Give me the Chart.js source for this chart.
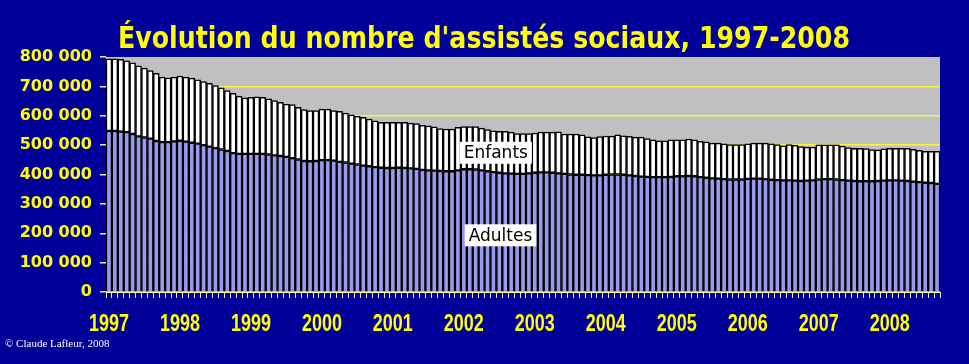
<!DOCTYPE html>
<html><head><meta charset="utf-8">
<script src="https://cdn.jsdelivr.net/npm/chart.js@4/dist/chart.umd.min.js"></script>
<style>html,body{margin:0;padding:0;background:#000099;overflow:hidden}</style>
</head><body>
<canvas id="c" width="969" height="364"></canvas>
<script>
const chartTitle = "Évolution du nombre d'assistés sociaux, 1997-2008";
const credit = "© Claude Lafleur, 2008";
const years = ['1997','1998','1999','2000','2001','2002','2003','2004','2005','2006','2007','2008'];
const monthNames = ['janv','févr','mars','avr','mai','juin','juil','août','sept','oct','nov','déc'];
const yTickValues = [0,100000,200000,300000,400000,500000,600000,700000,800000];

// Adultes (monthly, Jan 1997 - Sep 2008)
const adultes = [
548000,548000,546000,544000,538000,530000,526000,522000,514000,510000,510000,513000,
515000,512000,508000,505000,500000,495000,490000,485000,480000,473000,470000,470000,
470000,470000,470000,468000,465000,463000,460000,456000,451000,446000,445000,446000,
449000,449000,447000,443000,441000,437000,434000,430000,428000,425000,423000,422000,
422000,423000,422000,421000,419000,416000,414000,413000,412000,411000,411000,414000,
418000,418000,417000,414000,411000,408000,406000,404000,403000,402000,402000,404000,
406000,407000,407000,406000,404000,402000,400000,399000,399000,398000,397000,397000,
399000,400000,400000,399000,397000,395000,393000,392000,391000,391000,391000,392000,
394000,394000,395000,394000,391000,389000,387000,386000,384000,383000,383000,383000,
385000,386000,386000,384000,382000,381000,380000,380000,379000,378000,379000,380000,
383000,384000,384000,383000,381000,379000,378000,377000,377000,377000,378000,379000,
380000,380000,379000,378000,376000,374000,372000,371000,368000
];
// Enfants (monthly, Jan 1997 - Sep 2008)
const enfants = [
246000,246000,246000,243000,242000,240000,236000,232000,230000,222000,219000,219000,
220000,220000,220000,217000,216000,215000,213000,210000,206000,203000,197000,191000,
193000,194000,193000,190000,187000,183000,180000,182000,178000,175000,173000,172000,
174000,174000,171000,172000,168000,166000,164000,165000,161000,158000,155000,156000,
156000,155000,156000,154000,154000,151000,152000,149000,144000,144000,144000,147000,
145000,145000,146000,144000,142000,141000,141000,143000,141000,137000,137000,135000,
135000,137000,137000,138000,141000,136000,138000,139000,136000,130000,129000,132000,
132000,131000,135000,133000,133000,132000,134000,130000,127000,124000,124000,126000,
124000,124000,126000,124000,122000,122000,120000,121000,120000,119000,119000,119000,
119000,121000,121000,123000,122000,121000,118000,122000,120000,117000,114000,113000,
118000,117000,117000,118000,116000,113000,111000,112000,111000,108000,106000,108000,
109000,109000,110000,111000,110000,108000,107000,108000,111000
];

const categories = [];
years.forEach(y => monthNames.forEach(m => categories.push(m + ' ' + y)));
categories.length = adultes.length;

const annotations = [
  {text: 'Enfants', xIndex: 65.4, yValue: 474000},
  {text: 'Adultes', xIndex: 66.2, yValue: 193000}
];

const fmt = v => String(v).replace(/\B(?=(\d{3})+(?!\d))/g, ' ');

const decor = {
  id: 'decor',
  beforeDraw(chart) {
    const {ctx, chartArea: a} = chart;
    ctx.save();
    ctx.fillStyle = '#000099';
    ctx.fillRect(0, 0, chart.width, chart.height);
    ctx.fillStyle = '#C0C0C0';
    ctx.fillRect(a.left, a.top, a.right - a.left, a.bottom - a.top);
    ctx.restore();
  },
  afterDatasetsDraw(chart) {
    const {ctx} = chart;
    const xs = chart.scales.x, ys = chart.scales.y;
    ctx.save();
    ctx.font = '17px "DejaVu Sans"';
    ctx.textAlign = 'center';
    ctx.textBaseline = 'middle';
    annotations.forEach(an => {
      const x = xs.getPixelForValue(an.xIndex);
      const y = ys.getPixelForValue(an.yValue);
      const w = ctx.measureText(an.text).width + 8;
      ctx.fillStyle = '#FFFFFF';
      ctx.fillRect(x - w / 2, y - 11, w, 22);
      ctx.fillStyle = '#000000';
      ctx.fillText(an.text, x, y + 1);
    });
    ctx.restore();
  },
  afterDraw(chart) {
    const {ctx} = chart;
    const xs = chart.scales.x;
    ctx.save();
    // title
    ctx.font = 'bold 31px "DejaVu Sans"';
    ctx.fillStyle = '#FFFF00';
    ctx.textBaseline = 'alphabetic';
    ctx.textAlign = 'center';
    let w = ctx.measureText(chartTitle).width;
    const sx = Math.min(1, 732 / w);
    ctx.save();
    ctx.translate(484, 48);
    ctx.scale(sx, 1);
    ctx.fillText(chartTitle, 0, 0);
    ctx.restore();
    // year labels
    ctx.font = 'bold 24px "Liberation Sans"';
    ctx.textBaseline = 'alphabetic';
    years.forEach((yr, k) => {
      const i = k * 12;
      if (i >= categories.length) return;
      const x = xs.getPixelForValue(i);
      const tw = ctx.measureText(yr).width;
      const s = Math.min(1, 40 / tw);
      ctx.save();
      ctx.translate(x, 331);
      ctx.scale(s, 1);
      ctx.fillText(yr, 0, 0);
      ctx.restore();
    });
    // credit
    ctx.font = '11px "Liberation Serif"';
    ctx.fillStyle = '#FFFFFF';
    ctx.textAlign = 'left';
    ctx.fillText(credit, 5, 347);
    ctx.restore();
  }
};

new Chart(document.getElementById('c'), {
  type: 'bar',
  data: {
    labels: categories,
    datasets: [
      {label: 'Adultes', data: adultes, backgroundColor: '#9999EE', borderColor: '#000000', borderWidth: 1.5, borderSkipped: 'start'},
      {label: 'Enfants', data: enfants, backgroundColor: '#FFFFFF', borderColor: '#000000', borderWidth: 1.5, borderSkipped: false}
    ]
  },
  options: {
    responsive: false,
    animation: false,
    devicePixelRatio: 1,
    layout: {padding: {top: 57, right: 29, left: 0, bottom: 0}},
    datasets: {bar: {categoryPercentage: 1, barPercentage: 1}},
    plugins: {legend: {display: false}, tooltip: {enabled: false}, title: {display: false}},
    scales: {
      x: {
        stacked: true,
        offset: true,
        grid: {display: true, drawOnChartArea: false, offset: true, tickLength: 6, tickColor: '#E8E8E8', lineWidth: 1},
        border: {display: true, color: '#FFFFA0', width: 1},
        ticks: {display: false, autoSkip: false},
        afterFit(s) { s.height = 72; }
      },
      y: {
        stacked: true,
        min: 0,
        max: 800000,
        afterBuildTicks(s) { s.ticks = yTickValues.map(v => ({value: v})); },
        ticks: {padding: 8, color: '#FFFF00', font: {family: 'DejaVu Sans', weight: 'bold', size: 16}, callback: v => fmt(v)},
        grid: {
          color: c => (c.tick && (c.tick.value === 800000 || c.tick.value === 0)) ? 'rgba(0,0,0,0)' : '#F5F540',
          tickColor: '#E8E8E8', tickLength: 6, lineWidth: 1.5
        },
        border: {display: true, color: '#FFFFA0', width: 1},
        afterFit(s) { s.width = 106; }
      }
    }
  },
  plugins: [decor]
});
</script>
</body></html>
